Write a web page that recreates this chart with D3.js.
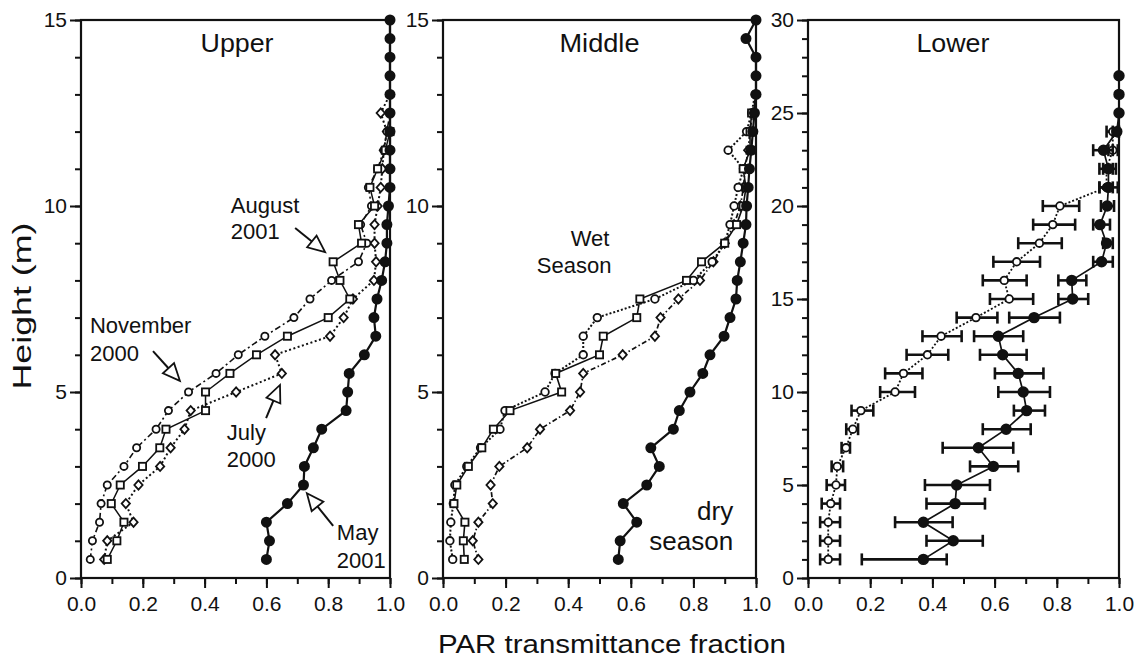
<!DOCTYPE html>
<html><head><meta charset="utf-8">
<script src="https://cdn.jsdelivr.net/npm/d3@7"></script>
<style>body{margin:0;background:#fff}</style>
</head><body>
<svg id="chart" width="1136" height="660"></svg>
<script>
// ---------------- DATA ----------------
// Upper canopy panel (height m -> PAR transmittance fraction)
const upperMayH = [0.5,1,1.5,2,2.5,3,3.5,4,4.5,5,5.5,6,6.5,7,7.5,8,8.5,9,9.5,10,10.5,11,11.5,12,12.5,13,13.5,14,14.5,15];
const upperMay  = [0.60,0.61,0.60,0.668,0.72,0.723,0.752,0.779,0.858,0.863,0.868,0.917,0.954,0.948,0.958,0.973,0.984,0.99,0.99,0.995,1,1,1,1,1,1,1,1,1,1];
const upperNovH = [0.5,1,1.5,2,2.5,3,3.5,4,4.5,5,5.5,6,6.5,7,7.5,8,8.5,9,9.5,10,10.5,11,11.5,12,12.5];
const upperNov  = [0.03,0.037,0.06,0.065,0.085,0.139,0.18,0.243,0.283,0.348,0.437,0.509,0.595,0.689,0.741,0.811,0.898,0.925,0.905,0.94,0.93,0.96,0.98,0.99,1.0];
const upperAugH = [0.5,1,1.5,2,2.5,3,3.5,4,4.5,5,5.5,6,6.5,7,7.5,8,8.5,9,9.5,10,10.5,11,11.5,12];
const upperAug  = [0.085,0.116,0.139,0.098,0.127,0.199,0.255,0.275,0.403,0.403,0.482,0.568,0.668,0.80,0.87,0.838,0.816,0.908,0.898,0.95,0.935,0.96,0.985,1.0];
const upperJulH = [0.5,1,1.5,2,2.5,3,3.5,4,4.5,5,5.5,6,6.5,7,7.5,8,8.5,9,9.5,10,10.5,11,11.5,12,12.5,13];
const upperJul  = [0.075,0.085,0.17,0.145,0.186,0.256,0.29,0.335,0.355,0.502,0.65,0.628,0.806,0.85,0.88,0.948,0.955,0.95,0.95,0.96,0.97,0.975,0.98,0.99,0.97,1.0];

// Middle canopy panel
const midDryH  = [0.5,1,1.5,2,2.5,3,3.5,4,4.5,5,5.5,6,6.5,7,7.5,8,8.5,9,9.5,10,10.5,11,11.5,12,12.5,13,13.5,14,14.5,15];
const midDry   = [0.56,0.566,0.619,0.576,0.651,0.691,0.664,0.736,0.755,0.789,0.83,0.853,0.898,0.917,0.936,0.94,0.95,0.959,0.968,0.97,0.975,0.979,0.985,0.99,0.995,1.0,1.0,1.0,0.968,1.0];
const midCircH = [0.5,1,1.5,2,2.5,3,3.5,4,4.5,5,5.5,6,6.5,7,7.5,8,8.5,9,9.5,10,10.5,11,11.5,12,12.5,13];
const midCirc  = [0.031,0.022,0.025,0.033,0.038,0.076,0.12,0.182,0.198,0.326,0.358,0.448,0.448,0.493,0.677,0.80,0.86,0.9,0.917,0.93,0.943,0.96,0.911,0.97,0.986,0.997];
const midSqH   = [0.5,1,1.5,2,2.5,3,3.5,4,4.5,5,5.5,6,6.5,7,7.5,8,8.5,9,9.5,10,10.5,11,11.5,12,12.5];
const midSq    = [0.068,0.065,0.07,0.035,0.044,0.081,0.124,0.161,0.214,0.379,0.36,0.5,0.512,0.619,0.629,0.778,0.826,0.9,0.938,0.959,0.968,0.959,0.981,0.981,0.986];
const midDiaH  = [0.5,1,1.5,2,2.5,3,3.5,4,4.5,5,5.5,6,6.5,7,7.5,8,8.5,9,9.5,10,10.5,11,11.5,12,12.5,13];
const midDia   = [0.113,0.095,0.113,0.159,0.152,0.18,0.269,0.31,0.406,0.438,0.448,0.574,0.677,0.695,0.752,0.821,0.864,0.9,0.93,0.95,0.96,0.965,0.975,0.98,0.99,1.0];

// Lower canopy panel (with error bars)
const lowDryH  = [1,2,3,4,5,6,7,8,9,10,11,12,13,14,15,16,17,18,19,20,21,22,23,24,25,26,27];
const lowDry   = [0.371,0.467,0.371,0.473,0.478,0.596,0.548,0.637,0.703,0.692,0.676,0.626,0.612,0.727,0.851,0.848,0.944,0.96,0.939,0.962,0.966,0.966,0.95,0.993,1,1,1];
const lowDryLo = [0.173,0.381,0.28,0.381,0.376,0.521,0.433,0.562,0.662,0.612,0.601,0.553,0.534,0.647,0.805,0.805,0.917,0.949,0.917,0.942,0.937,0.949,0.917,0.98,1,1,1];
const lowDryHi = [0.446,0.562,0.465,0.569,0.585,0.676,0.66,0.716,0.762,0.778,0.757,0.703,0.692,0.81,0.901,0.895,0.98,0.98,0.971,0.984,0.996,0.99,0.98,1,1,1,1];
const lowWetH  = [1,2,3,4,5,6,7,8,9,10,11,12,13,14,15,16,17,18,19,20,21,22,23,24];
const lowWet   = [0.065,0.065,0.065,0.073,0.09,0.094,0.122,0.144,0.17,0.28,0.307,0.384,0.428,0.54,0.647,0.631,0.671,0.744,0.787,0.81,0.96,0.96,0.98,0.98];
const lowWetLo = [0.039,0.039,0.039,0.044,0.06,0.076,0.108,0.123,0.14,0.232,0.248,0.317,0.368,0.478,0.585,0.562,0.596,0.676,0.724,0.755,0.937,0.937,0.966,0.96];
const lowWetHi = [0.103,0.103,0.103,0.103,0.119,0.113,0.135,0.161,0.21,0.344,0.368,0.451,0.494,0.609,0.724,0.703,0.746,0.816,0.859,0.872,0.98,0.98,0.996,0.996];

// Tick values and labels
const xMinorTicks = [0,0.1,0.2,0.3,0.4,0.5,0.6,0.7,0.8,0.9,1.0];
const xMajorTicks = [0,0.2,0.4,0.6,0.8,1.0];
const yMinor15 = [0,1,2,3,4,5,6,7,8,9,10,11,12,13,14,15];
const yMajor15 = [0,5,10,15];
const yMinor30 = [0,1,2,3,4,5,6,7,8,9,10,11,12,13,14,15,16,17,18,19,20,21,22,23,24,25,26,27,28,29,30];
const yMajor30 = [0,5,10,15,20,25,30];
const panelTitles = ["Upper","Middle","Lower"];
const xAxisTitle = "PAR transmittance fraction";
const yAxisTitle = "Height (m)";

// ---------------- DRAWING ----------------
const FONT = "'Liberation Sans', Arial, Helvetica, sans-serif";
const svg = d3.select('#chart');
const TOP = 20, BOTTOM = 578;
const panels = [
  {left:81,  right:390,  yMax:15, yMinor:yMinor15, yMajor:yMajor15, title:panelTitles[0], titleX:0.505, titleW:73},
  {left:443, right:756,  yMax:15, yMinor:yMinor15, yMajor:yMajor15, title:panelTitles[1], titleX:0.50,  titleW:80},
  {left:808, right:1119, yMax:30, yMinor:yMinor30, yMajor:yMajor30, title:panelTitles[2], titleX:0.466, titleW:73}
];

function diamondPath(s){ return `M0,${-s} L${s*0.9},0 L0,${s} L${-s*0.9},0 Z`; }

function setupPanel(p){
  const x = d3.scaleLinear().domain([0,1]).range([p.left,p.right]);
  const y = d3.scaleLinear().domain([0,p.yMax]).range([BOTTOM,TOP]);
  const g = svg.append('g');
  const styleAxis = sel => {
    sel.select('.domain').remove();
    sel.selectAll('line').attr('stroke','#111').attr('stroke-width',2);
    sel.selectAll('text').attr('font-family',FONT).attr('font-size',21).attr('fill','#111');
  };
  g.append('g').attr('transform',`translate(${p.left},0)`)
    .call(d3.axisLeft(y).tickValues(p.yMinor).tickSize(6).tickFormat('')).call(styleAxis);
  g.append('g').attr('transform',`translate(${p.left},0)`)
    .call(d3.axisLeft(y).tickValues(p.yMajor).tickSize(11).tickPadding(3).tickFormat(d3.format('d'))).call(styleAxis);
  g.append('g').attr('transform',`translate(0,${BOTTOM})`)
    .call(d3.axisBottom(x).tickValues(xMinorTicks).tickSize(6).tickFormat('')).call(styleAxis);
  g.append('g').attr('transform',`translate(0,${BOTTOM})`)
    .call(d3.axisBottom(x).tickValues(xMajorTicks).tickSize(10).tickPadding(8).tickFormat(d3.format('.1f'))).call(styleAxis);
  g.append('rect').attr('x',p.left).attr('y',TOP).attr('width',p.right-p.left).attr('height',BOTTOM-TOP)
    .attr('fill','none').attr('stroke','#111').attr('stroke-width',2.2);
  g.append('text').attr('x',x(p.titleX)).attr('y',52).attr('text-anchor','middle')
    .attr('font-family',FONT).attr('font-size',25).attr('fill','#111')
    .attr('textLength',p.titleW).attr('lengthAdjust','spacingAndGlyphs').text(p.title);
  return {g,x,y};
}

function drawSeries(P, vals, hs, o){
  const pts = vals.map((v,i)=>[v,hs[i]]);
  const line = d3.line().x(d=>P.x(d[0])).y(d=>P.y(d[1]));
  if (o.lo){
    const eg = P.g.append('g').attr('stroke','#111').attr('stroke-width',2.6);
    pts.forEach((d,i)=>{
      const a=P.x(o.lo[i]), b=P.x(o.hi[i]), yy=P.y(d[1]);
      if (b-a < 1) return;
      eg.append('line').attr('x1',a).attr('x2',b).attr('y1',yy).attr('y2',yy);
      eg.append('line').attr('x1',a).attr('x2',a).attr('y1',yy-6).attr('y2',yy+6);
      eg.append('line').attr('x1',b).attr('x2',b).attr('y1',yy-6).attr('y2',yy+6);
    });
  }
  P.g.append('path').attr('d',line(pts)).attr('fill','none').attr('stroke','#111')
    .attr('stroke-width',o.width).attr('stroke-dasharray',o.dash||null);
  const mg = P.g.append('g');
  pts.forEach(d=>{
    const cx=P.x(d[0]), cy=P.y(d[1]);
    if (o.marker==='circle'){
      mg.append('circle').attr('cx',cx).attr('cy',cy).attr('r',o.size)
        .attr('fill',o.filled?'#111':'#fff').attr('stroke','#111').attr('stroke-width',1.8);
    } else if (o.marker==='square'){
      mg.append('rect').attr('x',cx-o.size).attr('y',cy-o.size).attr('width',2*o.size).attr('height',2*o.size)
        .attr('fill','#fff').attr('stroke','#111').attr('stroke-width',1.8);
    } else {
      mg.append('path').attr('d',diamondPath(o.size)).attr('transform',`translate(${cx},${cy})`)
        .attr('fill','#fff').attr('stroke','#111').attr('stroke-width',1.8);
    }
  });
}

function annotate(P, lines, xv, hs, anchor, size){
  lines.forEach((t,i)=>{
    P.g.append('text').attr('x',P.x(xv)).attr('y',P.y(hs[i])).attr('text-anchor',anchor)
      .attr('font-family',FONT).attr('font-size',size).attr('fill','#111').text(t);
  });
}
function arrow(P, from, to){
  const x1=P.x(from[0]), y1=P.y(from[1]), x2=P.x(to[0]), y2=P.y(to[1]);
  const ang=Math.atan2(y2-y1,x2-x1), L=17, W=7.5;
  const bx=x2-L*Math.cos(ang), by=y2-L*Math.sin(ang);
  P.g.append('line').attr('x1',x1).attr('y1',y1).attr('x2',bx).attr('y2',by).attr('stroke','#111').attr('stroke-width',2);
  const px=-Math.sin(ang), py=Math.cos(ang);
  P.g.append('path').attr('d',`M${x2},${y2} L${bx+W*px},${by+W*py} L${bx-W*px},${by-W*py} Z`)
    .attr('fill','#fff').attr('stroke','#111').attr('stroke-width',1.8).attr('stroke-linejoin','miter');
}

const P1 = setupPanel(panels[0]);
const P2 = setupPanel(panels[1]);
const P3 = setupPanel(panels[2]);

// Upper
drawSeries(P1, upperJul, upperJulH, {marker:'diamond', size:4.6, width:2, dash:'2,2.5'});
drawSeries(P1, upperNov, upperNovH, {marker:'circle', size:3.6, width:1.6, dash:'6,3,2,3'});
drawSeries(P1, upperAug, upperAugH, {marker:'square', size:3.6, width:1.5});
drawSeries(P1, upperMay, upperMayH, {marker:'circle', size:4.6, width:2.2, filled:true});
annotate(P1, ['August','2001'], 0.485, [9.81,9.11], 'start', 22);
annotate(P1, ['November','2000'], 0.029, [6.59,5.83], 'start', 22);
annotate(P1, ['July','2000'], 0.472, [3.71,2.98], 'start', 22);
annotate(P1, ['May','2001'], 0.828, [1.02,0.27], 'start', 22);
arrow(P1, [0.693,9.41], [0.79,8.76]);
arrow(P1, [0.233,6.10], [0.32,5.30]);
arrow(P1, [0.599,4.30], [0.644,5.19]);
arrow(P1, [0.816,1.40], [0.731,2.28]);

// Middle
drawSeries(P2, midDia, midDiaH, {marker:'diamond', size:4.6, width:1.7, dash:'5,2.5,1.5,2.5'});
drawSeries(P2, midCirc, midCircH, {marker:'circle', size:3.8, width:2, dash:'2,2'});
drawSeries(P2, midSq, midSqH, {marker:'square', size:3.6, width:1.6});
drawSeries(P2, midDry, midDryH, {marker:'circle', size:4.6, width:2.2, filled:true});
annotate(P2, ['Wet'], 0.47, [8.92], 'middle', 22);
annotate(P2, ['Season'], 0.419, [8.2], 'middle', 22);
annotate(P2, ['dry'], 0.927, [1.56], 'end', 26);
annotate(P2, ['season'], 0.927, [0.75], 'end', 26);

// Lower
drawSeries(P3, lowWet, lowWetH, {marker:'circle', size:3.8, width:1.8, dash:'2,2', lo:lowWetLo, hi:lowWetHi});
drawSeries(P3, lowDry, lowDryH, {marker:'circle', size:4.8, width:1.7, filled:true, lo:lowDryLo, hi:lowDryHi});

// Axis titles
svg.append('text').attr('transform','translate(31,306) rotate(-90)').attr('text-anchor','middle')
  .attr('font-family',FONT).attr('font-size',25).attr('fill','#111')
  .attr('textLength',167).attr('lengthAdjust','spacingAndGlyphs').text(yAxisTitle);
svg.append('text').attr('x',612).attr('y',653).attr('text-anchor','middle')
  .attr('font-family',FONT).attr('font-size',25).attr('fill','#111')
  .attr('textLength',348).attr('lengthAdjust','spacingAndGlyphs').text(xAxisTitle);
</script>
</body></html>
